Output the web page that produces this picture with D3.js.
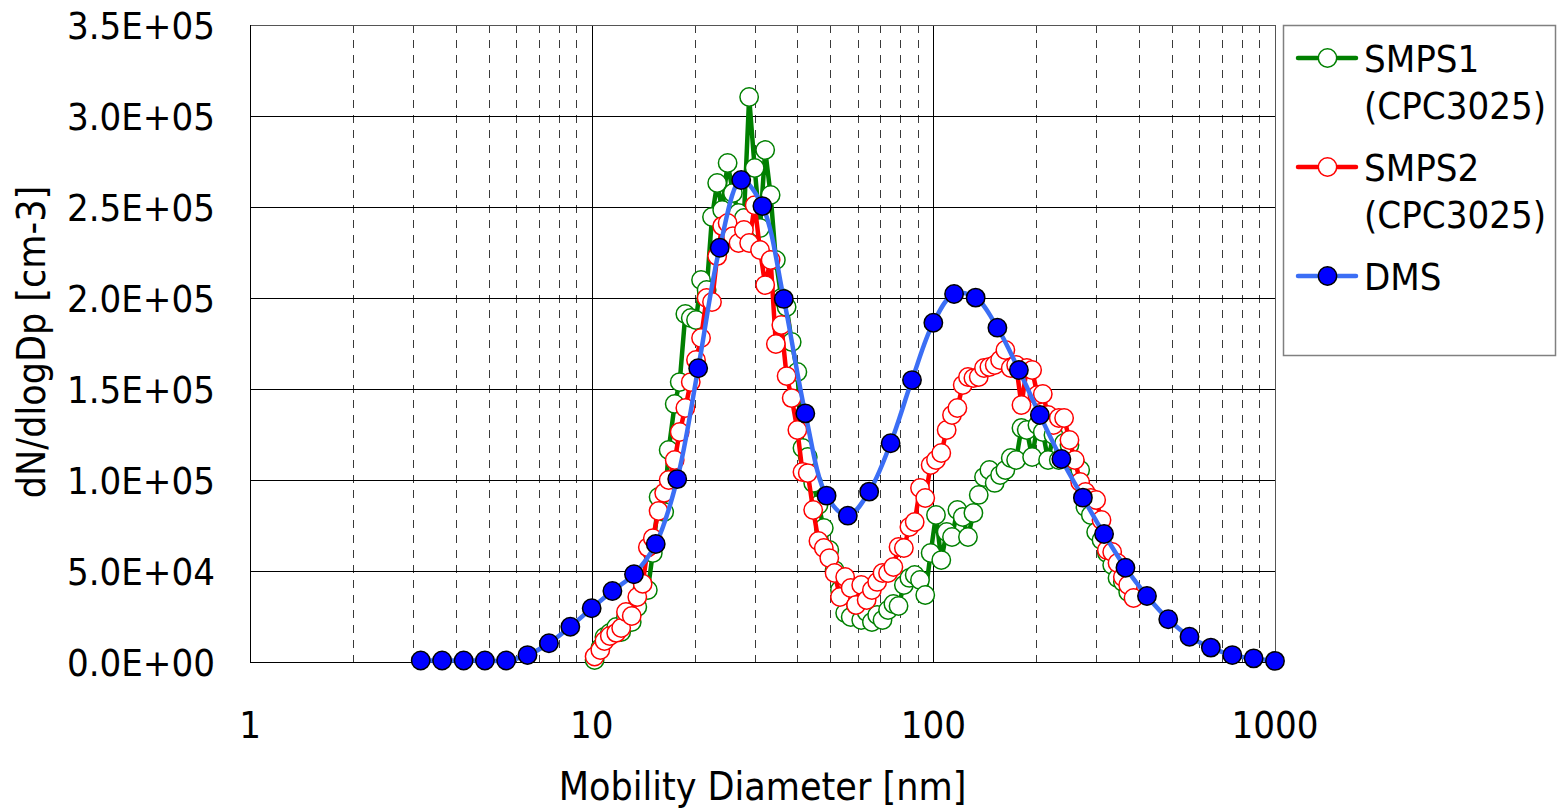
<!DOCTYPE html>
<html>
<head>
<meta charset="utf-8">
<script src="https://cdn.jsdelivr.net/npm/d3@7"></script>
<style>
  body { margin: 0; background: #fff; }
  svg text { font-family: "DejaVu Sans Condensed", "DejaVu Sans", sans-serif; fill: #000; }
</style>
</head>
<body>
<div id="chart"></div>
<script>
// size distributions
var smpsDiam = [10.2, 10.6, 10.9, 11.3, 11.8, 12.2, 12.6, 13.1, 13.6, 14.1, 14.6, 15.1, 15.7, 16.3, 16.8, 17.5,
    18.1, 18.8, 19.5, 20.2, 20.9, 21.7, 22.5, 23.3, 24.1, 25.0, 25.9, 26.9, 27.9, 28.9, 30.0, 31.1, 32.2, 33.4,
    34.6, 35.9, 37.2, 38.5, 40.0, 41.4, 42.9, 44.5, 46.1, 47.8, 49.6, 51.4, 53.3, 55.2, 57.3, 59.4, 61.5, 63.8,
    66.1, 68.5, 71.0, 73.7, 76.4, 79.1, 82.0, 85.1, 88.2, 91.4, 94.7, 98.2, 101.8, 105.5, 109.4, 113.4, 117.6,
    121.9, 126.3, 131.0, 135.8, 140.7, 145.9, 151.2, 156.8, 162.5, 168.5, 174.7, 181.1, 187.7, 194.6, 201.7,
    209.1, 216.7, 224.7, 232.9, 241.4, 250.3, 259.5, 269.0, 278.8, 289.0, 299.6, 310.6, 322.0, 333.8, 346.0,
    358.7, 371.8, 385.4, 399.5];

var smps1 = [1100, 7700, 13700, 15900, 19200, 16500, 24700, 22000, 30200, 40700,
    39600, 59900, 90700, 82400, 116500, 141800, 153800, 191200, 189000, 187900,
    209900, 204400, 244500, 263200, 248400, 274200, 257700, 246700, 244000, 310400,
    271400, 238500, 281300, 256600, 220900, 200000, 195100, 175800, 159300, 117600,
    112600, 98400, 86300, 73600, 61500, 50500, 39600, 26900, 24700, 31300,
    23100, 27500, 22000, 25800, 23100, 28600, 31900, 30800, 42300, 46200,
    47800, 45100, 36800, 59900, 80800, 56000, 71400, 68700, 83500, 79700,
    68700, 81900, 91800, 101600, 105500, 98400, 102700, 105500, 112100, 111000,
    128600, 127500, 112600, 130200, 126400, 111000, 124700, 111000, 120300, 119200,
    109900, 105500, 85200, 80800, 71400, 67000, 59900, 53300, 46200, 44000,
    38500];

var smps2 = [3000, 6600, 11500, 14300, 16000, 18700, 27500, 25300, 35700, 43000,
    63000, 68000, 83000, 93000, 100000, 111000, 126400, 139600, 153800, 165900,
    178000, 200000, 197800, 223000, 239500, 241200, 234000, 230200, 237400, 230200,
    251000, 226400, 207100, 220900, 174700, 185200, 157100, 145000, 127500, 104400,
    103800, 83500, 66500, 62600, 57100, 48900, 35700, 46700, 40700, 31300,
    42300, 34100, 39600, 44000, 48900, 48900, 52200, 63200, 62600, 74200,
    76900, 95600, 90100, 108200, 111000, 114800, 127500, 135700, 139600, 152200,
    156600, 156000, 156600, 161500, 162100, 163200, 165900, 171400, 161500, 163200,
    141200, 161500, 160400, 146700, 147300, 135700, 130200, 134100, 134100, 122000,
    111000, 98900, 93400, 90100, 89000, 78000, 61500, 60400, 54400, 46700,
    42300, 35200];

var dmsDiam = [3.16, 3.65, 4.22, 4.87, 5.62, 6.49, 7.50, 8.66, 10.0, 11.5, 13.3, 15.4, 17.8, 20.5, 23.7, 27.4,
    31.6, 36.5, 42.2, 48.7, 56.2, 64.9, 75.0, 86.6, 100, 115, 133, 154, 178, 205, 237, 274, 316, 365, 422,
    487, 562, 649, 750, 866, 1000];

var dms = [800, 800, 800, 800, 800, 3800, 10300, 19400, 29500, 39000, 48200, 64800, 100500, 161400, 227600,
    264800, 250500, 199500, 136600, 91400, 80400, 93600, 120200, 154900, 186400, 202200, 200200, 183700,
    160400, 135700, 111500, 90300, 70300, 51800, 36300, 23500, 13900, 7900, 3800, 2000, 600];

var yTicks = [0, 50000, 100000, 150000, 200000, 250000, 300000, 350000];
var xTicks = [1, 10, 100, 1000];

var legendItems = [
    { lines: ["SMPS1", "(CPC3025)"], line: "#008000", stroke: "#008000", fill: "#fff" },
    { lines: ["SMPS2", "(CPC3025)"], line: "#ff0000", stroke: "#ff0000", fill: "#fff" },
    { lines: ["DMS"], line: "#3b6ef5", stroke: "#000", fill: "#0000ff" }
];

function sizeChart() {
    var width = 1558, height = 810;
    var left = 250, right = 1275, plotTop = 25, bottom = 662;

    var svg = d3.select("#chart").append("svg")
        .attr("width", width)
        .attr("height", height);

    var x = d3.scaleLog().domain([1, 1000]).range([left, right]);
    var y = d3.scaleLinear().domain([0, 350000]).range([bottom, plotTop]);

    // minor dashed verticals 2..9 in each decade
    var minor = [];
    [1, 10, 100].forEach(function (dec) {
        for (var k = 2; k <= 9; k++) minor.push(dec * k);
    });

    svg.append("g").selectAll("line")
        .data(minor)
        .enter().append("line")
        .attr("x1", function (d) { return Math.round(x(d)) + 0.5; })
        .attr("x2", function (d) { return Math.round(x(d)) + 0.5; })
        .attr("y1", plotTop)
        .attr("y2", bottom)
        .attr("stroke", "#3a3a3a")
        .attr("stroke-width", 1)
        .attr("stroke-dasharray", "8,7");

    svg.append("g").selectAll("line")
        .data([10, 100])
        .enter().append("line")
        .attr("x1", function (d) { return Math.round(x(d)) + 0.5; })
        .attr("x2", function (d) { return Math.round(x(d)) + 0.5; })
        .attr("y1", plotTop)
        .attr("y2", bottom)
        .attr("stroke", "#000")
        .attr("stroke-width", 1);

    svg.append("g").selectAll("line")
        .data(yTicks)
        .enter().append("line")
        .attr("x1", left)
        .attr("x2", right)
        .attr("y1", function (d) { return Math.round(y(d)) + 0.5; })
        .attr("y2", function (d) { return Math.round(y(d)) + 0.5; })
        .attr("stroke", "#000")
        .attr("stroke-width", 1);

    svg.append("rect")
        .attr("x", left + 0.5)
        .attr("y", plotTop + 0.5)
        .attr("width", right - left)
        .attr("height", bottom - plotTop)
        .attr("fill", "none")
        .attr("stroke", "#555")
        .attr("stroke-width", 1);

    svg.append("line")
        .attr("x1", left + 0.5).attr("x2", left + 0.5)
        .attr("y1", plotTop).attr("y2", bottom + 1)
        .attr("stroke", "#000");
    svg.append("line")
        .attr("x1", left).attr("x2", right)
        .attr("y1", bottom + 0.5).attr("y2", bottom + 0.5)
        .attr("stroke", "#000");

    // tick labels
    svg.append("g").selectAll("text")
        .data(yTicks)
        .enter().append("text")
        .attr("x", 215)
        .attr("y", function (d) { return y(d) + 13.5; })
        .attr("text-anchor", "end")
        .style("font-size", "38px")
        .text(function (d) {
            var s = d3.format(".1e")(d).replace("e", "E");
            return s.replace(/E([+-])(\d)$/, "E$10$2");
        });

    svg.append("g").selectAll("text")
        .data(xTicks)
        .enter().append("text")
        .attr("x", function (d) { return x(d); })
        .attr("y", 738)
        .attr("text-anchor", "middle")
        .style("font-size", "38px")
        .text(function (d) { return d; });

    svg.append("text")
        .attr("x", (left + right) / 2)
        .attr("y", 800)
        .attr("text-anchor", "middle")
        .style("font-size", "39px")
        .text("Mobility Diameter [nm]");

    svg.append("text")
        .attr("transform", "translate(45,342) rotate(-90)")
        .attr("text-anchor", "middle")
        .style("font-size", "39px")
        .text("dN/dlogDp [cm-3]");

    // series
    function drawSeries(diam, vals, lineColor, strokeColor, fillColor, curve) {
        var pts = vals.map(function (v, i) { return [diam[i], v]; });
        var line = d3.line()
            .x(function (d) { return x(d[0]); })
            .y(function (d) { return y(d[1]); })
            .curve(curve);
        var g = svg.append("g");
        g.append("path")
            .datum(pts)
            .attr("d", line)
            .attr("fill", "none")
            .attr("stroke", lineColor)
            .attr("stroke-width", 4.5)
            .attr("stroke-linejoin", "round");
        g.selectAll("circle")
            .data(pts)
            .enter().append("circle")
            .attr("cx", function (d) { return x(d[0]); })
            .attr("cy", function (d) { return y(d[1]); })
            .attr("r", 9.2)
            .attr("fill", fillColor)
            .attr("stroke", strokeColor)
            .attr("stroke-width", 1.5);
    }

    drawSeries(smpsDiam, smps1, "#008000", "#008000", "#fff", d3.curveLinear);
    drawSeries(smpsDiam, smps2, "#ff0000", "#ff0000", "#fff", d3.curveLinear);
    drawSeries(dmsDiam, dms, "#3b6ef5", "#000", "#0000ff", d3.curveCatmullRom);

    // legend
    svg.append("rect")
        .attr("x", 1283.5)
        .attr("y", 25.5)
        .attr("width", 272)
        .attr("height", 330)
        .attr("fill", "#fff")
        .attr("stroke", "#808080")
        .attr("stroke-width", 1.5);

    var legendY = [58, 167, 276];
    var leg = svg.append("g").selectAll("g")
        .data(legendItems)
        .enter().append("g")
        .attr("transform", function (d, i) { return "translate(0," + legendY[i] + ")"; });

    leg.append("line")
        .attr("x1", 1298).attr("x2", 1356)
        .attr("y1", 0).attr("y2", 0)
        .attr("stroke", function (d) { return d.line; })
        .attr("stroke-width", 4.5)
        .attr("stroke-linecap", "round");

    leg.append("circle")
        .attr("cx", 1327.5).attr("cy", 0)
        .attr("r", 9.2)
        .attr("fill", function (d) { return d.fill; })
        .attr("stroke", function (d) { return d.stroke; })
        .attr("stroke-width", 1.5);

    leg.each(function (d) {
        var t = d3.select(this);
        d.lines.forEach(function (s, j) {
            t.append("text")
                .attr("x", 1364)
                .attr("y", 14 + j * 47)
                .style("font-size", "38px")
                .text(s);
        });
    });
}

sizeChart();
</script>
</body>
</html>
